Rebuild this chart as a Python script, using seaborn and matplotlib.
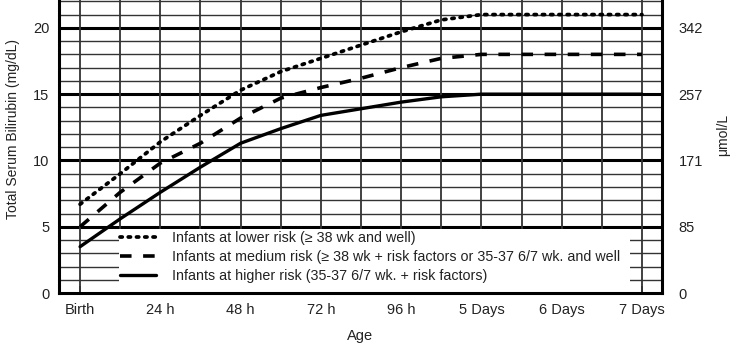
import numpy as np
import pandas as pd
import matplotlib
matplotlib.use("Agg")
import matplotlib.pyplot as plt
import seaborn as sns

sns.set_theme(style="white")
plt.rcParams['font.family'] = ['Liberation Sans', 'DejaVu Sans']

# data (hours after birth, mg/dL)
hours = [0, 12, 24, 36, 48, 60, 72, 84, 96, 108, 120, 144, 168]
lower_risk = [6.7, 9.0, 11.4, 13.4, 15.3, 16.7, 17.7, 18.7, 19.7, 20.6, 21.0, 21.0, 21.0]
medium_risk = [5.0, 7.6, 9.8, 11.3, 13.2, 14.7, 15.5, 16.2, 17.0, 17.7, 18.0, 18.0, 18.0]
higher_risk = [3.5, 5.6, 7.6, 9.5, 11.3, 12.4, 13.4, 13.9, 14.4, 14.8, 15.0, 15.0, 15.0]

labels = ["Infants at lower risk (\u2265 38 wk and well)",
          "Infants at medium risk (\u2265 38 wk + risk factors or 35-37 6/7 wk. and well",
          "Infants at higher risk (35-37 6/7 wk. + risk factors)"]

tick_hours = [0, 24, 48, 72, 96, 120, 144, 168]
tick_labels = ["Birth", "24 h", "48 h", "72 h", "96 h", "5 Days", "6 Days", "7 Days"]
mg_ticks = [0, 5, 10, 15, 20]
umol_labels = ["0", "85", "171", "257", "342"]

df = pd.DataFrame({"hours": hours * 3,
                   "tsb": lower_risk + medium_risk + higher_risk,
                   "risk": [labels[0]] * len(hours) + [labels[1]] * len(hours) + [labels[2]] * len(hours)})

txt = '#222222'
fig = plt.figure(figsize=(7.32, 3.57), dpi=100)
ax = fig.add_axes([0.0806, 0.179, 0.8238, 0.821])

xlim = (-6.3, 174)
ylim = (0, 22.1)

# grid
for y in range(1, 23):
    thick = y % 5 == 0
    ax.axhline(y, color='black' if thick else '#333333', lw=2.2 if thick else 1.0, zorder=1)
for x in range(0, 169, 12):
    ax.axvline(x, color='#333333', lw=1.3, zorder=1)

# white area behind the legend
ax.add_patch(plt.Rectangle((11.5, 0.05), 153, 4.82, facecolor='white', edgecolor='none', zorder=1.5))

styles = [dict(linestyle=(0, (0.6, 1.6)), lw=2.7),
          dict(linestyle=(0, (3.2, 3.2)), lw=2.6),
          dict(linestyle='-', lw=2.4)]
for lab, st in zip(labels, styles):
    sns.lineplot(data=df[df.risk == lab], x="hours", y="tsb", color='black', ax=ax,
                 label=lab, zorder=3, **st)
ax.lines[-3].set_dash_capstyle('round')

ax.set_xlim(xlim)
ax.set_ylim(ylim)
ax.set_xticks(tick_hours)
ax.set_xticklabels(tick_labels)
ax.set_xticks([12, 36, 60, 84, 108, 132, 156], minor=True)
ax.tick_params(axis='x', which='both', direction='in', length=5, width=1.3, color='#333333',
               labelsize=10.5, labelcolor=txt, pad=7, bottom=True)
ax.set_yticks(mg_ticks)
ax.tick_params(axis='y', length=0, labelsize=10.5, labelcolor=txt, pad=7, left=False)
ax.set_xlabel("Age", fontsize=10.5, color=txt, labelpad=9)
ax.set_ylabel("Total Serum Bilirubin (mg/dL)", fontsize=10, color=txt)
ax.yaxis.set_label_coords(-0.064, 0.56)

for s in ['left', 'bottom', 'right']:
    ax.spines[s].set_visible(True)
    ax.spines[s].set_color('black')
    ax.spines[s].set_linewidth(2.2)
ax.spines['top'].set_visible(False)

ax2 = ax.twinx()
ax2.set_ylim(ylim)
ax2.set_yticks(mg_ticks)
ax2.set_yticklabels(umol_labels)
ax2.tick_params(axis='y', length=0, labelsize=10.5, labelcolor=txt, pad=12)
ax2.set_ylabel("\u03bcmol/L", fontsize=10, color=txt)
ax2.yaxis.set_label_coords(1.09, 0.54)
for s in ax2.spines.values():
    s.set_visible(False)

leg = ax.legend(loc='upper left', bbox_to_anchor=(12, 4.68), bbox_transform=ax.transData,
                frameon=False, fontsize=10.3, handlelength=2.5, handletextpad=1.1,
                borderpad=0, borderaxespad=0, labelspacing=0.34)
for t in leg.get_texts():
    t.set_color(txt)
leg.set_zorder(5)

fig.savefig("out.png", dpi=100)
